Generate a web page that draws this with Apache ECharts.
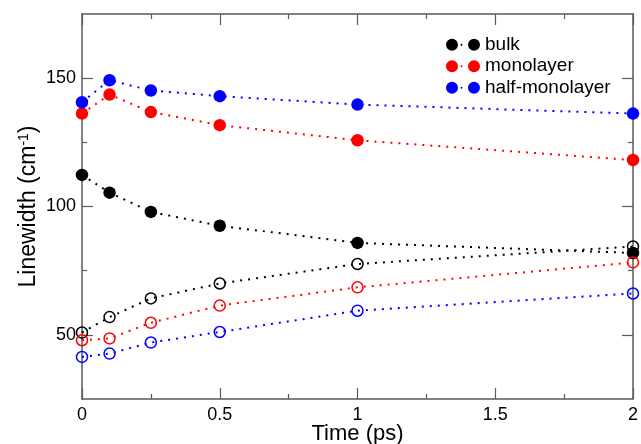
<!DOCTYPE html>
<html>
<head>
<meta charset="utf-8">
<script src="https://cdn.jsdelivr.net/npm/echarts@6/dist/echarts.min.js"></script>
<style>
  html, body { margin: 0; padding: 0; background: #fff; }
  #chart { width: 641px; height: 444px; }
</style>
</head>
<body>
<div id="chart"></div>
<script>
// Time points (ps)
const times = [0, 0.1, 0.25, 0.5, 1, 2];

// Linewidths (cm^-1): filled = first quantity, open = second quantity
const bulkFilled = [112.3, 105.4, 97.9, 92.5, 85.8, 81.9];
const bulkOpen   = [50.9, 56.9, 64.2, 70.0, 77.6, 84.4];
const monoFilled = [136.2, 143.6, 136.8, 131.7, 125.8, 118.1];
const monoOpen   = [47.9, 48.6, 54.7, 61.4, 68.5, 78.2];
const halfFilled = [140.6, 149.2, 145.2, 143.0, 139.7, 136.2];
const halfOpen   = [41.4, 42.7, 47.0, 51.1, 59.4, 66.1];

const legendNames = ['bulk', 'monolayer', 'half-monolayer'];
const yMajorTicks = [50, 100, 150];
const yMinorTicks = [75, 125];

const FONT = 'Liberation Sans, Arial, Helvetica, sans-serif';
const AXIS_COLOR = '#5a5a5a';
const axisLineStyle = { color: AXIS_COLOR, width: 1.5 };
const tickLineStyle = { color: AXIS_COLOR, width: 1.2 };

// Two filled circles joined by a small dot, used as the legend glyph
const legendIcon = 'path://M0,6a6,6 0 1,0 12,0a6,6 0 1,0 -12,0Z' +
  'M14.5,6a1,1 0 1,0 2,0a1,1 0 1,0 -2,0Z' +
  'M22,6a6,6 0 1,0 12,0a6,6 0 1,0 -12,0Z';

function pairs(values) {
  return times.map((t, i) => [t, values[i]]);
}

function filledSeries(name, values, color) {
  return {
    name: name,
    type: 'line',
    data: pairs(values),
    symbol: 'circle',
    symbolSize: 12.5,
    clip: false,
    itemStyle: { color: color },
    lineStyle: { color: color, width: 2, type: [2, 6] },
    emphasis: { disabled: true },
    z: 3
  };
}

function openSeries(name, values, color) {
  return {
    name: name,
    type: 'line',
    data: pairs(values),
    symbol: 'circle',
    symbolSize: 11,
    clip: false,
    itemStyle: { color: 'rgba(255,255,255,0)', borderColor: color, borderWidth: 1.5 },
    lineStyle: { color: color, width: 2, type: [2, 6] },
    emphasis: { disabled: true },
    z: 3
  };
}

function xAxisDef(position, withLabels) {
  return {
    type: 'value',
    position: position,
    min: 0,
    max: 2,
    interval: 0.5,
    axisLine: { show: true, onZero: false, lineStyle: axisLineStyle },
    axisTick: { show: true, inside: true, length: 11, lineStyle: tickLineStyle },
    minorTick: { show: true, splitNumber: 2, length: 5, lineStyle: tickLineStyle },
    splitLine: { show: false },
    minorSplitLine: { show: false },
    axisLabel: withLabels
      ? { show: true, fontSize: 18, color: '#000', fontFamily: FONT, margin: 7 }
      : { show: false },
    name: withLabels ? 'Time (ps)' : '',
    nameLocation: 'middle',
    nameGap: 24,
    nameMoveOverlap: false,
    nameTextStyle: { fontSize: 22, color: '#000', fontFamily: FONT }
  };
}

function yAxisDef(position, ticks, tickLen, showLine, withLabels) {
  const axis = {
    type: 'value',
    position: position,
    offset: 0,
    min: 25,
    max: 175,
    interval: 25,
    axisLine: { show: showLine, onZero: false, lineStyle: axisLineStyle },
    axisTick: { show: true, inside: true, length: tickLen, customValues: ticks, lineStyle: tickLineStyle },
    splitLine: { show: false },
    axisLabel: withLabels
      ? { show: true, customValues: yMajorTicks, fontSize: 18, color: '#000', fontFamily: FONT, margin: 6 }
      : { show: false }
  };
  if (withLabels) {
    axis.name = 'Linewidth (cm{sup|-1})';
    axis.nameLocation = 'middle';
    axis.nameGap = 42;
    axis.nameMoveOverlap = false;
    axis.nameTextStyle = {
      fontSize: 23, color: '#000', fontFamily: FONT,
      rich: { sup: { fontSize: 14, color: '#000', fontFamily: FONT, verticalAlign: 'top', lineHeight: 23 } }
    };
  }
  return axis;
}

const chart = echarts.init(document.getElementById('chart'), null, { renderer: 'canvas' });

chart.setOption({
  animation: false,
  backgroundColor: '#fff',
  textStyle: { fontFamily: FONT },
  grid: { left: 82, right: 8, top: 14, bottom: 45, containLabel: false, outerBoundsMode: 'none' },
  legend: {
    data: legendNames,
    orient: 'vertical',
    left: 446,
    top: 34,
    padding: 0,
    itemGap: 0,
    itemWidth: 34,
    itemHeight: 12,
    icon: legendIcon,
    selectedMode: false,
    textStyle: { fontSize: 19, color: '#000', fontFamily: FONT, lineHeight: 21.5 }
  },
  xAxis: [xAxisDef('bottom', true), xAxisDef('top', false)],
  yAxis: [
    yAxisDef('left', yMajorTicks, 11, true, true),
    yAxisDef('left', yMinorTicks, 5, false, false),
    yAxisDef('right', yMajorTicks, 11, true, false),
    yAxisDef('right', yMinorTicks, 5, false, false)
  ],
  series: [
    filledSeries('bulk', bulkFilled, '#000000'),
    filledSeries('monolayer', monoFilled, '#ff0000'),
    filledSeries('half-monolayer', halfFilled, '#0000ff'),
    openSeries('bulk (open)', bulkOpen, '#000000'),
    openSeries('monolayer (open)', monoOpen, '#ff0000'),
    openSeries('half-monolayer (open)', halfOpen, '#0000ff')
  ]
});
</script>
</body>
</html>
